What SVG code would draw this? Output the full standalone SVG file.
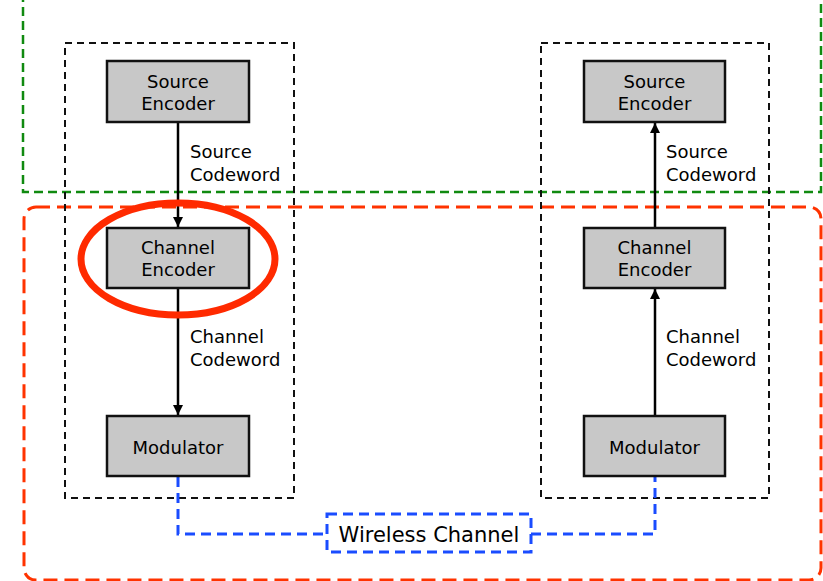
<svg xmlns="http://www.w3.org/2000/svg" width="823" height="581" viewBox="0 0 823 581">
<defs>
<marker id="ah" viewBox="0 0 10 10" refX="10" refY="5" markerWidth="10" markerHeight="10" markerUnits="userSpaceOnUse" orient="auto">
<path d="M0,0 L10,5 L0,10 Z" fill="#000"/>
</marker>
</defs>
<style>
text{font-family:"DejaVu Sans","Liberation Sans",sans-serif;fill:#000}
.box{fill:#c8c8c8;stroke:#111;stroke-width:2.5}
.bt{font-size:18px;text-anchor:middle}
.lbl{font-size:18px}
.grp{fill:none;stroke:#111;stroke-width:2;stroke-dasharray:7 5}
.arr{stroke:#000;stroke-width:2.5;fill:none}
.blue{fill:none;stroke:#1a4cff;stroke-width:3;stroke-dasharray:10 6}
</style>
<rect x="23" y="-10" width="798" height="202" fill="none" stroke="#108a10" stroke-width="2.5" stroke-dasharray="9 5"/>
<rect x="24" y="207" width="797" height="373" rx="12" fill="none" stroke="#ff3300" stroke-width="3" stroke-dasharray="14 7"/>
<g id="tx-group"><rect class="grp" x="65" y="43" width="229" height="455"/></g>
<g id="rx-group"><rect class="grp" x="541" y="43" width="228" height="455"/></g>
<g id="connectors">
<line class="arr" x1="178" y1="122" x2="178" y2="227" marker-end="url(#ah)"/>
<line class="arr" x1="178" y1="288" x2="178" y2="415" marker-end="url(#ah)"/>
<line class="arr" x1="655" y1="228" x2="655" y2="123" marker-end="url(#ah)"/>
<line class="arr" x1="655" y1="416" x2="655" y2="289" marker-end="url(#ah)"/>
<path class="blue" d="M178,477 V534 H327"/>
<path class="blue" d="M531,534 H655 V477"/>
<text class="lbl" x="190" y="158">Source</text>
<text class="lbl" x="190" y="181">Codeword</text>
<text class="lbl" x="190" y="343">Channel</text>
<text class="lbl" x="190" y="366">Codeword</text>
<text class="lbl" x="666" y="158">Source</text>
<text class="lbl" x="666" y="181">Codeword</text>
<text class="lbl" x="666" y="343">Channel</text>
<text class="lbl" x="666" y="366">Codeword</text>
</g>
<g id="tx-source-encoder"><rect class="box" x="107" y="61" width="142" height="61"/><text class="bt" x="178" y="88">Source</text><text class="bt" x="178" y="110">Encoder</text></g>
<g id="tx-channel-encoder"><rect class="box" x="107" y="228" width="142" height="60"/><text class="bt" x="178" y="254">Channel</text><text class="bt" x="178" y="276">Encoder</text></g>
<g id="tx-modulator"><rect class="box" x="107" y="416" width="142" height="60"/><text class="bt" x="178" y="454">Modulator</text></g>
<g id="rx-source-encoder"><rect class="box" x="584" y="61" width="141" height="61"/><text class="bt" x="654.5" y="88">Source</text><text class="bt" x="654.5" y="110">Encoder</text></g>
<g id="rx-channel-encoder"><rect class="box" x="584" y="228" width="141" height="60"/><text class="bt" x="654.5" y="254">Channel</text><text class="bt" x="654.5" y="276">Encoder</text></g>
<g id="rx-modulator"><rect class="box" x="584" y="416" width="141" height="60"/><text class="bt" x="654.5" y="454">Modulator</text></g>
<g id="wireless-channel"><rect class="blue" x="327" y="514" width="204" height="38"/><text x="429" y="542" font-size="21" text-anchor="middle">Wireless Channel</text></g>
<ellipse id="highlight" cx="178" cy="259" rx="97" ry="56" fill="none" stroke="#ff2a00" stroke-width="7"/>
</svg>
